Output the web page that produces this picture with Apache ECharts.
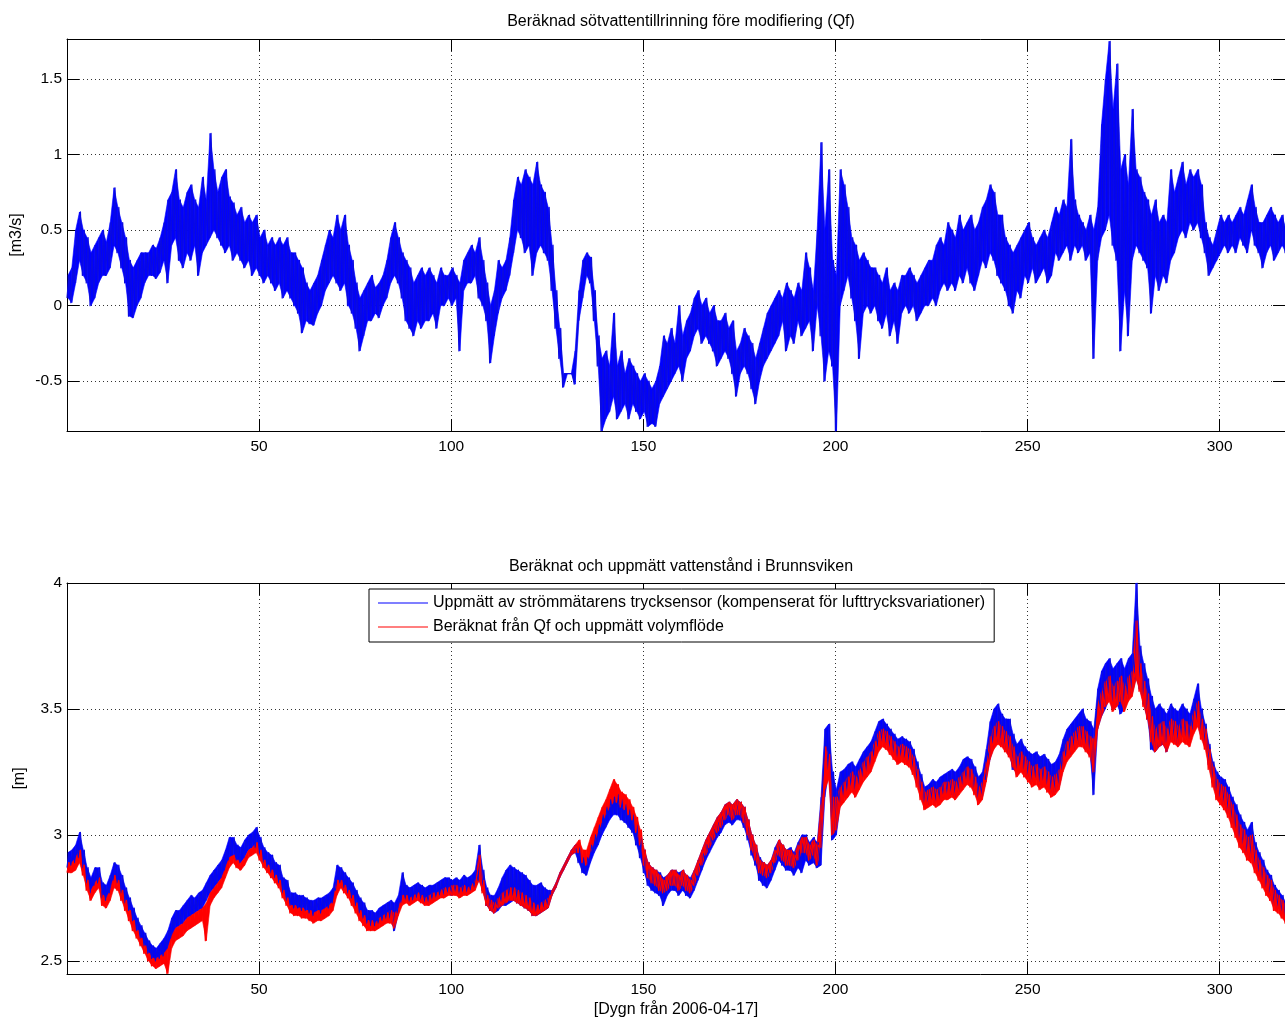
<!DOCTYPE html>
<html>
<head>
<meta charset="utf-8">
<script src="https://cdn.jsdelivr.net/npm/echarts@6.0.0/dist/echarts.min.js"></script>
<style>
  html, body { margin: 0; padding: 0; background: #fff; }
  #chart { width: 1285px; height: 1019px; }
</style>
</head>
<body>
<div id="chart"></div>
<script>
// Qf, daily lower / upper edge of the noisy band (day 0..317)
const qfLow = [
  .05,.02,.15,.3,.2,.15,0,.05,.15,.2,
  .2,.25,.4,.35,.25,.15,-.07,-.08,0,.05,
  .15,.2,.2,.18,.22,.3,.15,.4,.45,.3,
  .25,.35,.3,.4,.2,.35,.4,.45,.5,.45,
  .4,.35,.4,.3,.35,.3,.25,.3,.2,.25,
  .2,.15,.2,.15,.1,.15,.05,.1,.05,0,
  -.05,-.18,-.1,-.12,-.13,-.05,0,.1,.15,.2,
  .15,.1,.15,0,-.05,-.15,-.3,-.2,-.1,-.1,
  -.05,-.08,0,.05,.15,.2,.15,.05,-.1,-.15,
  -.2,-.1,-.15,-.1,-.1,-.05,-.15,0,0,.05,
  0,.05,-.3,.1,.15,.15,.2,.05,0,-.1,
  -.38,-.2,-.05,.05,.1,.2,.35,.5,.45,.35,
  .4,.2,.35,.4,.35,.3,.1,-.15,-.35,-.54,
  -.45,-.45,-.52,-.1,.05,.2,.15,-.1,-.4,-.83,
  -.75,-.7,-.6,-.75,-.7,-.65,-.75,-.65,-.7,-.75,
  -.7,-.8,-.78,-.8,-.65,-.6,-.55,-.5,-.45,-.4,
  -.5,-.35,-.3,-.2,-.15,-.25,-.2,-.25,-.3,-.4,
  -.35,-.3,-.35,-.45,-.6,-.45,-.4,-.45,-.55,-.65,
  -.5,-.4,-.35,-.3,-.25,-.2,-.1,-.3,-.2,-.25,
  -.1,-.2,-.15,-.1,-.3,0,-.2,-.5,-.3,-.4,
  -.85,0,.1,.2,.05,-.1,-.35,-.05,0,-.05,
  0,-.1,-.15,-.05,-.2,-.1,-.25,-.05,0,-.05,
  0,-.1,-.05,0,0,.05,0,.1,.15,.1,
  .15,.1,.2,.15,.25,.15,.1,.2,.3,.25,
  .35,.3,.2,.15,.1,0,-.05,.1,.05,.2,
  .15,.25,.15,.2,.25,.15,.2,.35,.3,.35,
  .4,.3,.4,.35,.4,.3,.35,-.35,.3,.45,
  .5,.6,.4,.3,-.3,.1,-.2,.3,.4,.35,
  .3,.25,-.05,.2,.1,.2,.15,.3,.35,.45,
  .5,.45,.55,.5,.55,.45,.35,.2,.25,.3,
  .35,.4,.35,.4,.35,.45,.4,.35,.5,.4,
  .35,.25,.35,.4,.3,.35,.4,.35
];
const qfHigh = [
  .2,.25,.5,.62,.5,.45,.35,.4,.45,.5,
  .42,.55,.78,.65,.55,.45,.3,.25,.3,.35,
  .35,.35,.4,.38,.45,.55,.7,.75,.9,.7,
  .65,.75,.8,.7,.65,.85,.7,1.14,.9,.75,
  .85,.9,.72,.68,.6,.65,.55,.6,.55,.6,
  .45,.5,.4,.45,.4,.45,.4,.45,.35,.35,
  .3,.25,.15,.1,.15,.2,.3,.4,.5,.45,
  .6,.5,.6,.4,.3,.15,.05,.1,.15,.2,
  .12,.15,.2,.3,.45,.55,.45,.35,.3,.25,
  .15,.2,.25,.2,.25,.2,.15,.25,.2,.2,
  .25,.2,.15,.3,.35,.4,.35,.45,.3,.15,
  0,.1,.3,.25,.3,.45,.7,.85,.8,.9,
  .85,.8,.95,.8,.75,.65,.4,.1,-.15,-.45,
  -.45,-.45,-.3,.1,.3,.35,.32,.1,-.2,-.35,
  -.3,-.4,-.05,-.4,-.3,-.45,-.35,-.4,-.45,-.5,
  -.45,-.5,-.55,-.5,-.4,-.2,-.25,-.15,-.25,0,
  -.2,-.1,-.05,.05,.1,0,.05,-.05,0,-.1,
  -.1,-.05,-.15,-.1,-.3,-.25,-.15,-.2,-.25,-.35,
  -.25,-.15,-.05,0,.05,.1,.05,.15,.1,.05,
  .15,.1,.35,.25,.1,.5,1.08,.5,.9,.3,
  .2,.9,.8,.65,.45,.4,.3,.35,.3,.25,
  .25,.2,.15,.25,.1,.15,.1,.2,.2,.25,
  .2,.15,.2,.25,.3,.3,.4,.45,.4,.55,
  .5,.45,.6,.5,.55,.6,.5,.55,.65,.7,
  .8,.75,.6,.6,.45,.4,.35,.4,.45,.5,
  .55,.45,.4,.45,.5,.45,.55,.65,.6,.7,
  .65,1.1,.7,.6,.55,.5,.6,.5,.65,1.2,
  1.5,1.75,1.3,1.6,.9,1.0,.8,1.3,.9,.85,
  .75,.7,.6,.7,.55,.6,.55,.9,.75,.85,
  .95,.8,.9,.85,.9,.8,.55,.45,.4,.5,
  .6,.55,.6,.55,.6,.65,.6,.7,.8,.65,
  .55,.55,.6,.65,.6,.55,.6,.5
];

// water level, measured (blue) and computed (red), daily low / high
const measLow = [
  2.87,2.88,2.89,2.91,2.87,2.81,2.77,2.80,2.81,2.75,
  2.74,2.77,2.82,2.81,2.77,2.73,2.70,2.66,2.62,2.59,
  2.56,2.53,2.51,2.50,2.51,2.52,2.55,2.59,2.63,2.64,
  2.65,2.67,2.68,2.69,2.70,2.71,2.74,2.77,2.79,2.81,
  2.83,2.86,2.90,2.92,2.90,2.89,2.91,2.94,2.95,2.95,
  2.92,2.89,2.87,2.85,2.83,2.81,2.77,2.74,2.72,2.71,
  2.71,2.70,2.70,2.69,2.68,2.70,2.69,2.71,2.71,2.73,
  2.78,2.81,2.79,2.77,2.75,2.72,2.69,2.67,2.65,2.64,
  2.64,2.65,2.66,2.67,2.67,2.62,2.69,2.73,2.74,2.73,
  2.74,2.75,2.74,2.73,2.73,2.74,2.75,2.76,2.76,2.77,
  2.76,2.77,2.76,2.77,2.77,2.78,2.79,2.82,2.78,2.72,
  2.70,2.69,2.70,2.72,2.72,2.73,2.74,2.73,2.72,2.71,
  2.70,2.68,2.68,2.69,2.70,2.71,2.76,2.79,2.83,2.86,
  2.89,2.92,2.93,2.89,2.85,2.84,2.89,2.93,2.96,3.00,
  3.03,3.06,3.08,3.08,3.06,3.05,3.03,3.01,2.96,2.91,
  2.85,2.80,2.78,2.77,2.76,2.72,2.76,2.78,2.78,2.76,
  2.78,2.76,2.75,2.78,2.82,2.86,2.90,2.93,2.96,2.99,
  3.01,3.04,3.05,3.04,3.06,3.06,3.03,2.98,2.92,2.88,
  2.82,2.80,2.79,2.82,2.86,2.90,2.88,2.86,2.86,2.84,
  2.87,2.85,2.90,2.88,2.89,2.87,2.88,3.15,3.25,2.98,
  3.00,3.12,3.15,3.17,3.19,3.17,3.20,3.23,3.25,3.27,
  3.31,3.35,3.37,3.36,3.34,3.32,3.30,3.31,3.30,3.29,
  3.26,3.21,3.16,3.12,3.12,3.14,3.13,3.14,3.15,3.16,
  3.16,3.15,3.17,3.19,3.21,3.20,3.17,3.14,3.15,3.22,
  3.30,3.35,3.37,3.36,3.34,3.32,3.26,3.25,3.27,3.25,
  3.23,3.21,3.22,3.20,3.21,3.19,3.17,3.17,3.19,3.26,
  3.30,3.32,3.34,3.36,3.36,3.34,3.32,3.16,3.42,3.47,
  3.50,3.54,3.50,3.52,3.48,3.50,3.54,3.56,3.62,3.58,
  3.52,3.46,3.34,3.33,3.35,3.36,3.33,3.38,3.37,3.36,
  3.39,3.38,3.37,3.42,3.45,3.40,3.36,3.28,3.21,3.16,
  3.14,3.12,3.09,3.05,3.01,2.97,2.95,2.92,2.91,2.87,
  2.84,2.81,2.78,2.76,2.72,2.71,2.69,2.67
];
const measHigh = [
  2.93,2.94,2.96,3.01,2.94,2.87,2.83,2.87,2.87,2.81,
  2.80,2.84,2.89,2.88,2.84,2.79,2.75,2.71,2.67,2.64,
  2.61,2.58,2.56,2.55,2.57,2.59,2.62,2.67,2.70,2.70,
  2.72,2.74,2.76,2.75,2.77,2.78,2.81,2.84,2.86,2.88,
  2.90,2.94,2.99,2.99,2.96,2.95,2.98,3.00,3.01,3.03,
  2.99,2.95,2.93,2.92,2.89,2.88,2.83,2.82,2.77,2.77,
  2.76,2.76,2.75,2.74,2.74,2.75,2.75,2.76,2.77,2.79,
  2.88,2.87,2.85,2.83,2.81,2.78,2.75,2.73,2.70,2.70,
  2.69,2.71,2.72,2.73,2.74,2.73,2.76,2.85,2.80,2.79,
  2.80,2.81,2.80,2.79,2.80,2.80,2.81,2.82,2.83,2.83,
  2.82,2.83,2.82,2.84,2.83,2.84,2.86,2.96,2.86,2.79,
  2.76,2.76,2.79,2.83,2.86,2.88,2.87,2.86,2.85,2.84,
  2.82,2.80,2.80,2.81,2.79,2.78,2.78,2.81,2.85,2.88,
  2.91,2.94,2.96,2.95,2.91,2.91,2.96,3.00,3.04,3.08,
  3.11,3.14,3.15,3.16,3.14,3.12,3.10,3.08,3.04,2.99,
  2.94,2.89,2.87,2.86,2.85,2.83,2.84,2.86,2.86,2.85,
  2.86,2.84,2.83,2.86,2.90,2.94,2.98,3.01,3.04,3.07,
  3.09,3.12,3.13,3.12,3.14,3.13,3.11,3.06,3.00,2.96,
  2.91,2.89,2.88,2.90,2.95,2.98,2.96,2.94,2.95,2.93,
  2.97,3.00,3.00,2.97,2.99,2.97,3.15,3.42,3.44,3.25,
  3.18,3.25,3.26,3.28,3.29,3.27,3.30,3.33,3.35,3.37,
  3.41,3.45,3.46,3.44,3.42,3.40,3.38,3.39,3.38,3.37,
  3.34,3.29,3.24,3.19,3.20,3.22,3.21,3.23,3.24,3.25,
  3.26,3.25,3.27,3.30,3.31,3.30,3.27,3.23,3.25,3.34,
  3.45,3.50,3.52,3.48,3.46,3.46,3.40,3.36,3.38,3.35,
  3.33,3.32,3.33,3.31,3.32,3.30,3.28,3.29,3.32,3.38,
  3.42,3.44,3.46,3.48,3.50,3.46,3.45,3.42,3.58,3.65,
  3.68,3.70,3.66,3.68,3.70,3.66,3.70,3.72,4.00,3.75,
  3.68,3.62,3.55,3.50,3.52,3.50,3.48,3.52,3.50,3.49,
  3.52,3.50,3.48,3.54,3.60,3.50,3.44,3.36,3.29,3.25,
  3.23,3.22,3.19,3.15,3.12,3.08,3.05,3.02,3.05,2.97,
  2.93,2.90,2.86,2.84,2.80,2.78,2.76,2.73
];
const calcLow = [
  2.85,2.85,2.86,2.89,2.84,2.78,2.74,2.77,2.79,2.72,
  2.71,2.74,2.79,2.78,2.74,2.70,2.66,2.62,2.59,2.56,
  2.53,2.50,2.48,2.47,2.48,2.49,2.45,2.55,2.58,2.59,
  2.60,2.62,2.63,2.64,2.65,2.66,2.58,2.72,2.75,2.77,
  2.79,2.83,2.87,2.89,2.87,2.86,2.88,2.91,2.92,2.93,
  2.90,2.87,2.85,2.83,2.81,2.79,2.75,2.72,2.69,2.68,
  2.68,2.67,2.67,2.66,2.65,2.66,2.66,2.67,2.68,2.70,
  2.76,2.79,2.77,2.75,2.72,2.69,2.66,2.64,2.62,2.62,
  2.62,2.63,2.64,2.65,2.65,2.63,2.68,2.72,2.73,2.72,
  2.73,2.74,2.73,2.72,2.72,2.73,2.74,2.75,2.75,2.76,
  2.76,2.76,2.75,2.76,2.76,2.77,2.78,2.82,2.77,2.72,
  2.70,2.69,2.71,2.72,2.73,2.74,2.74,2.73,2.72,2.71,
  2.70,2.68,2.68,2.69,2.70,2.71,2.76,2.79,2.83,2.86,
  2.89,2.92,2.93,2.93,2.89,2.88,2.93,2.97,3.01,3.05,
  3.08,3.11,3.13,3.13,3.11,3.10,3.08,3.06,3.01,2.96,
  2.88,2.83,2.81,2.80,2.78,2.77,2.78,2.80,2.80,2.78,
  2.80,2.78,2.77,2.80,2.84,2.88,2.92,2.95,2.98,3.01,
  3.03,3.06,3.08,3.06,3.08,3.08,3.05,3.00,2.94,2.90,
  2.85,2.84,2.83,2.85,2.89,2.92,2.90,2.88,2.88,2.87,
  2.90,2.93,2.93,2.90,2.92,2.88,2.95,3.18,3.22,3.00,
  3.02,3.11,3.13,3.15,3.17,3.15,3.18,3.21,3.23,3.25,
  3.29,3.33,3.35,3.34,3.32,3.30,3.28,3.29,3.28,3.27,
  3.24,3.19,3.14,3.10,3.11,3.12,3.11,3.12,3.14,3.14,
  3.15,3.14,3.16,3.18,3.20,3.19,3.16,3.12,3.14,3.21,
  3.30,3.34,3.36,3.35,3.33,3.31,3.27,3.23,3.25,3.23,
  3.21,3.19,3.20,3.18,3.19,3.17,3.15,3.16,3.18,3.25,
  3.29,3.31,3.33,3.35,3.35,3.33,3.31,3.25,3.42,3.47,
  3.51,3.53,3.49,3.51,3.53,3.49,3.53,3.55,3.62,3.57,
  3.51,3.46,3.37,3.33,3.35,3.36,3.33,3.37,3.36,3.35,
  3.37,3.36,3.35,3.40,3.43,3.38,3.34,3.26,3.19,3.14,
  3.12,3.10,3.07,3.03,2.99,2.95,2.93,2.90,2.89,2.85,
  2.82,2.79,2.76,2.74,2.70,2.69,2.67,2.65
];
const calcHigh = [
  2.89,2.89,2.91,2.94,2.88,2.82,2.78,2.81,2.83,2.76,
  2.75,2.78,2.84,2.82,2.78,2.74,2.70,2.66,2.62,2.59,
  2.56,2.53,2.51,2.51,2.52,2.53,2.55,2.60,2.63,2.64,
  2.65,2.67,2.68,2.69,2.70,2.71,2.73,2.77,2.79,2.81,
  2.83,2.87,2.91,2.92,2.90,2.89,2.91,2.94,2.95,2.97,
  2.94,2.90,2.88,2.86,2.84,2.82,2.78,2.75,2.72,2.72,
  2.71,2.71,2.70,2.70,2.69,2.70,2.70,2.71,2.72,2.74,
  2.82,2.82,2.80,2.78,2.76,2.73,2.70,2.68,2.66,2.66,
  2.65,2.67,2.68,2.69,2.70,2.69,2.71,2.76,2.76,2.75,
  2.76,2.77,2.76,2.75,2.76,2.77,2.77,2.78,2.79,2.79,
  2.80,2.80,2.79,2.80,2.79,2.80,2.82,2.92,2.82,2.76,
  2.74,2.73,2.75,2.77,2.78,2.79,2.79,2.78,2.77,2.76,
  2.75,2.73,2.72,2.73,2.74,2.75,2.78,2.81,2.85,2.88,
  2.91,2.94,2.96,2.98,2.94,2.94,2.99,3.03,3.07,3.11,
  3.14,3.18,3.22,3.20,3.17,3.16,3.14,3.11,3.07,3.02,
  2.94,2.89,2.87,2.86,2.84,2.82,2.84,2.86,2.86,2.84,
  2.86,2.84,2.82,2.86,2.90,2.94,2.98,3.01,3.04,3.07,
  3.09,3.12,3.13,3.12,3.14,3.13,3.11,3.06,3.00,2.96,
  2.90,2.89,2.88,2.90,2.94,2.98,2.96,2.94,2.94,2.92,
  2.96,2.99,2.99,2.96,2.98,2.96,3.12,3.35,3.32,3.15,
  3.15,3.19,3.21,3.23,3.25,3.23,3.26,3.29,3.31,3.33,
  3.37,3.41,3.42,3.41,3.39,3.37,3.35,3.36,3.35,3.34,
  3.31,3.26,3.21,3.17,3.18,3.19,3.18,3.19,3.21,3.21,
  3.22,3.21,3.23,3.25,3.27,3.26,3.23,3.19,3.21,3.29,
  3.39,3.43,3.45,3.43,3.41,3.39,3.35,3.31,3.33,3.31,
  3.29,3.27,3.28,3.26,3.27,3.25,3.23,3.24,3.26,3.33,
  3.37,3.39,3.41,3.43,3.43,3.41,3.39,3.38,3.52,3.57,
  3.61,3.63,3.59,3.61,3.63,3.59,3.63,3.65,3.85,3.68,
  3.61,3.56,3.47,3.42,3.44,3.45,3.42,3.46,3.45,3.43,
  3.46,3.45,3.43,3.49,3.53,3.46,3.42,3.34,3.27,3.22,
  3.20,3.19,3.16,3.12,3.08,3.04,3.02,2.99,3.00,2.94,
  2.90,2.87,2.84,2.82,2.78,2.76,2.74,2.72
];

const dayMax = 317;
const xTicks = 50;
const qfRange = [-0.83, 1.765];
const levelRange = [2.448, 4.0];

const titleTop = 'Beräknad sötvattentillrinning före modifiering (Qf)';
const titleBottom = 'Beräknat och uppmätt vattenstånd i Brunnsviken';
const nameMeas = 'Uppmätt av strömmätarens trycksensor (kompenserat för lufttrycksvariationer)';
const nameCalc = 'Beräknat från Qf och uppmätt volymflöde';

// zigzag: one low and one high point per day
function zigzag(lo, hi) {
  const pts = [];
  for (let d = 0; d < lo.length; d++) {
    pts.push([d, lo[d]]);
    pts.push([d + 0.5, hi[d]]);
  }
  return pts;
}

// filled core between the daily low and high, one quad per day step
function bandSeries(lo, hi, xi, yi, color) {
  const rows = [];
  for (let d = 0; d < lo.length - 1; d++) {
    rows.push([d, lo[d], hi[d], lo[d + 1], hi[d + 1]]);
  }
  return {
    type: 'custom', xAxisIndex: xi, yAxisIndex: yi, silent: true, clip: true,
    encode: { x: 0, y: [1, 2, 3, 4] },
    data: rows,
    renderItem: function (params, api) {
      const d = api.value(0);
      const pts = [
        api.coord([d + 0.25, api.value(1)]),
        api.coord([d + 1.25, api.value(3)]),
        api.coord([d + 1.25, api.value(4)]),
        api.coord([d + 0.25, api.value(2)])
      ];
      return {
        type: 'polygon', shape: { points: pts },
        style: { fill: color, stroke: color, lineWidth: 0.6 }
      };
    }
  };
}

const font = "'Liberation Sans', Arial, Helvetica, sans-serif";
const black = '#000';
const dotted = { show: true, lineStyle: { color: '#333', type: [1, 3], width: 1 } };
const tickLabel = { color: black, fontSize: 15.5, fontFamily: font };

function xAxis(gridIndex, position, name) {
  const bottom = position === 'bottom';
  return {
    type: 'value', gridIndex, position, min: 0, max: dayMax, interval: xTicks,
    axisLine: { show: true, onZero: false, lineStyle: { color: black, width: 1 } },
    axisTick: { show: true, inside: true, length: 12, lineStyle: { color: black } },
    axisLabel: bottom ? Object.assign({ margin: 8, showMinLabel: false, showMaxLabel: false }, tickLabel) : { show: false },
    splitLine: bottom ? dotted : { show: false },
    name: name || '', nameLocation: 'middle', nameGap: 28,
    nameTextStyle: { color: black, fontSize: 16, fontFamily: font }
  };
}

function yAxis(gridIndex, position, range, splitNumber, name, showMax) {
  const left = position === 'left';
  return {
    type: 'value', gridIndex, position, min: range[0], max: range[1], splitNumber,
    axisLine: { show: true, onZero: false, lineStyle: { color: black, width: 1 } },
    axisTick: { show: true, inside: true, length: 12, lineStyle: { color: black } },
    axisLabel: left ? Object.assign({ margin: 5, showMinLabel: false, showMaxLabel: showMax }, tickLabel) : { show: false },
    splitLine: left ? dotted : { show: false },
    name: name || '', nameLocation: 'middle', nameRotate: 90, nameGap: 39,
    nameTextStyle: { color: black, fontSize: 16, fontFamily: font }
  };
}

const titleStyle = { color: black, fontSize: 16, fontWeight: 'normal', fontFamily: font };
const blue = '#0000ff';
const red = '#ff0000';

const chart = echarts.init(document.getElementById('chart'), null, { renderer: 'canvas' });
chart.setOption({
  animation: false,
  backgroundColor: '#fff',
  title: [
    { text: titleTop, left: 681, top: 14, textAlign: 'center', padding: 0, textStyle: titleStyle },
    { text: titleBottom, left: 681, top: 559, textAlign: 'center', padding: 0, textStyle: titleStyle }
  ],
  grid: [
    { left: 67, top: 39, width: 1229, height: 392 },
    { left: 67, top: 583, width: 1229, height: 392 }
  ],
  xAxis: [
    xAxis(0, 'bottom'),
    xAxis(0, 'top'),
    xAxis(1, 'bottom', '[Dygn från 2006-04-17]'),
    xAxis(1, 'top')
  ],
  yAxis: [
    yAxis(0, 'left', qfRange, 5, '[m3/s]', false),
    yAxis(0, 'right', qfRange, 5),
    yAxis(1, 'left', levelRange, 3, '[m]', true),
    yAxis(1, 'right', levelRange, 3)
  ],
  legend: {
    data: [nameMeas, nameCalc],
    orient: 'vertical', left: 369, top: 589,
    icon: 'rect', itemWidth: 50, itemHeight: 1, itemGap: 6,
    padding: [5, 9, 6, 9],
    borderColor: black, borderWidth: 1, backgroundColor: '#fff',
    selectedMode: false,
    textStyle: { color: black, fontSize: 16, fontFamily: font, lineHeight: 18 }
  },
  series: [
    bandSeries(qfLow, qfHigh, 0, 0, blue),
    {
      name: 'Qf', type: 'line', xAxisIndex: 0, yAxisIndex: 0,
      data: zigzag(qfLow, qfHigh), showSymbol: false, symbol: 'none',
      color: blue, lineStyle: { color: '#0a0ae0', width: 1.2, join: 'round' }
    },
    bandSeries(measLow, measHigh, 2, 2, blue),
    {
      name: nameMeas, type: 'line', xAxisIndex: 2, yAxisIndex: 2,
      data: zigzag(measLow, measHigh), showSymbol: false, symbol: 'none',
      color: blue, itemStyle: { color: blue }, lineStyle: { color: '#0a0ae0', width: 1.2, join: 'round' }
    },
    bandSeries(calcLow, calcHigh, 2, 2, red),
    {
      name: nameCalc, type: 'line', xAxisIndex: 2, yAxisIndex: 2,
      data: zigzag(calcLow, calcHigh), showSymbol: false, symbol: 'none',
      color: red, itemStyle: { color: red }, lineStyle: { color: red, width: 1.2, join: 'round' }
    }
  ]
});
</script>
</body>
</html>
